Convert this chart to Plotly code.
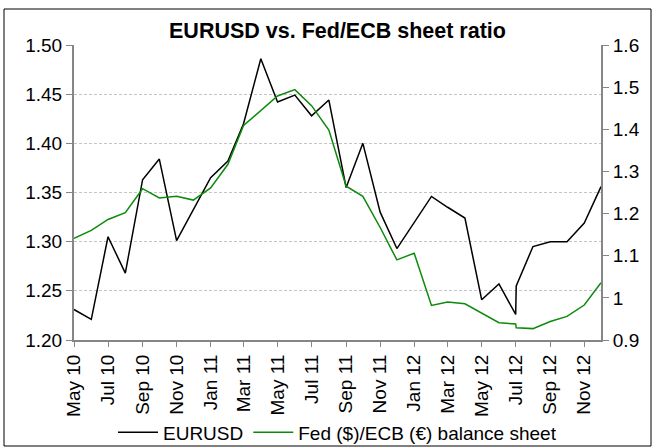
import plotly.graph_objects as go

dates = ["2010-05-01", "2010-06-01", "2010-07-01", "2010-08-01", "2010-09-01", "2010-10-01",
         "2010-11-01", "2010-12-01", "2011-01-01", "2011-02-01", "2011-03-01", "2011-04-01",
         "2011-05-01", "2011-06-01", "2011-07-01", "2011-08-01", "2011-09-01", "2011-10-01",
         "2011-11-01", "2011-12-01", "2012-01-01", "2012-02-01", "2012-03-01", "2012-04-01",
         "2012-05-01", "2012-06-01", "2012-07-01", "2012-07-02", "2012-08-01", "2012-09-01",
         "2012-10-01", "2012-11-01", "2012-12-01"]

eurusd = [1.231, 1.221, 1.305, 1.268, 1.363, 1.384, 1.301, 1.333, 1.365, 1.382, 1.420, 1.486,
          1.442, 1.449, 1.428, 1.444, 1.355, 1.400, 1.330, 1.293, 1.319, 1.346, 1.335, 1.324,
          1.241, 1.257, 1.226, 1.255, 1.295, 1.300, 1.300, 1.319, 1.356]

balance_ratio = [1.141, 1.160, 1.186, 1.202, 1.259, 1.237, 1.241, 1.232, 1.261, 1.317, 1.409, 1.444,
                 1.479, 1.494, 1.456, 1.398, 1.265, 1.241, 1.167, 1.090, 1.106, 0.982, 0.990, 0.986,
                 0.964, 0.941, 0.938, 0.929, 0.927, 0.944, 0.956, 0.983, 1.036]

left_ticks = [1.20, 1.25, 1.30, 1.35, 1.40, 1.45, 1.50]
right_ticks = [0.9, 1.0, 1.1, 1.2, 1.3, 1.4, 1.5, 1.6]
right_labels = ["0.9", "1", "1.1", "1.2", "1.3", "1.4", "1.5", "1.6"]

FONT = "Liberation Sans Narrow, Arial Narrow, Liberation Sans, Arial, sans-serif"
AXIS_GRAY = "#868686"

fig = go.Figure()
fig.add_trace(go.Scatter(x=dates, y=eurusd, mode="lines", name="EURUSD",
                         line=dict(color="#000000", width=1.5), yaxis="y"))
fig.add_trace(go.Scatter(x=dates, y=balance_ratio, mode="lines",
                         name="Fed ($)/ECB (\u20ac) balance sheet",
                         line=dict(color="#0b8a0b", width=1.5), yaxis="y2"))

fig.update_layout(
    width=655, height=448,
    margin=dict(l=74, r=54, t=45, b=108, autoexpand=False),
    paper_bgcolor="white", plot_bgcolor="white",
    font=dict(family=FONT, size=19, color="#000000"),
    title=dict(text="<b>EURUSD vs. Fed/ECB sheet ratio</b>",
               x=0.5, xref="paper", xanchor="center",
               y=1 - 30 / 448, yref="container", yanchor="middle",
               font=dict(family="Liberation Sans, Arial, sans-serif", size=21.5, color="#000000")),
    showlegend=True,
    legend=dict(orientation="h", x=0.5, xanchor="center", y=-0.313, yanchor="middle",
                xref="paper", yref="paper",
                font=dict(family=FONT, size=19), bgcolor="rgba(0,0,0,0)",
                itemwidth=40, tracegroupgap=0),
    xaxis=dict(type="date", range=["2010-05-01", "2012-12-01"], automargin=False,
               tick0="2010-05-01", dtick="M2", tickformat="%b %y", tickangle=-90,
               ticks="outside", ticklen=5, tickcolor=AXIS_GRAY, tickwidth=1,
               showline=True, linecolor=AXIS_GRAY, linewidth=2,
               showgrid=False, zeroline=False,
               tickfont=dict(family=FONT, size=19)),
    yaxis=dict(range=[1.20, 1.50], tickvals=left_ticks, tickformat=".2f", automargin=False,
               ticks="outside", ticklen=6, tickcolor=AXIS_GRAY, tickwidth=1,
               showline=True, linecolor=AXIS_GRAY, linewidth=2,
               showgrid=True, gridcolor="#c4c4c4", gridwidth=1, griddash="3px,2px",
               zeroline=False, tickfont=dict(family=FONT, size=19)),
    yaxis2=dict(range=[0.9, 1.6], tickvals=right_ticks, ticktext=right_labels,
                overlaying="y", side="right", automargin=False,
                ticks="outside", ticklen=6, tickcolor=AXIS_GRAY, tickwidth=1,
                showline=True, linecolor=AXIS_GRAY, linewidth=2,
                showgrid=False, zeroline=False, tickfont=dict(family=FONT, size=19)),
)

# outer chart border
fig.add_shape(type="rect", xref="paper", yref="paper",
              x0=(4 - 74) / 527, x1=(651 - 74) / 527,
              y0=(340 - 446) / 295, y1=(340 - 9) / 295,
              line=dict(color="#000000", width=1), fillcolor="rgba(0,0,0,0)", layer="below")

fig.write_html("out.html", config={"displayModeBar": False},
               post_script="document.body.style.margin='0';document.body.style.overflow='hidden';")
